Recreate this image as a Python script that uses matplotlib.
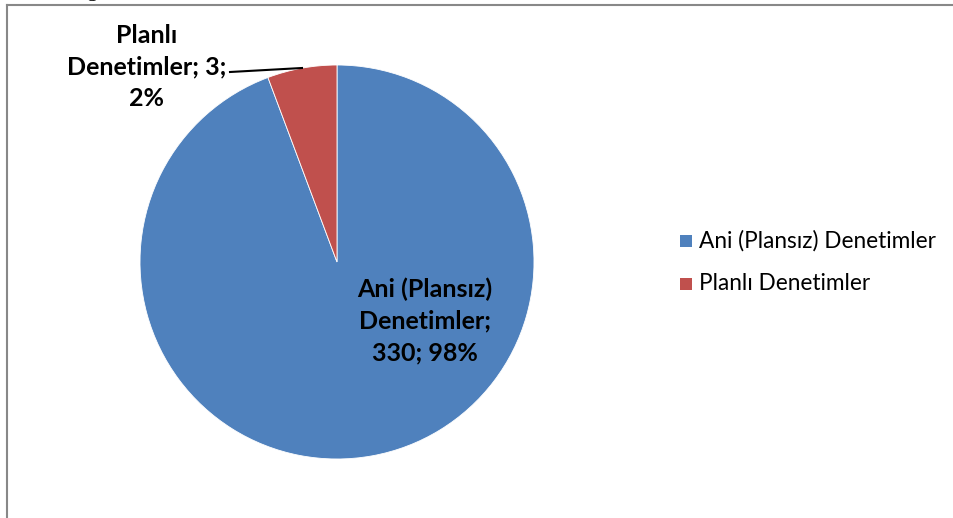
import matplotlib
matplotlib.use("Agg")
from matplotlib import pyplot as plt
from matplotlib.lines import Line2D
from matplotlib.patches import Rectangle

# data
categories = ["Ani (Plansız) Denetimler", "Planlı Denetimler"]
counts = [330, 3]
percent_labels = ["98%", "2%"]
slice_shares = [94.3, 5.7]  # drawn slice sizes as they appear in the picture
colors = ["#4f81bd", "#c0504d"]

plt.rcParams['font.family'] = ['Lato', 'DejaVu Sans']

fig = plt.figure(figsize=(9.54, 5.18), dpi=100)

# chart frame (only top and left edges visible)
fig.add_artist(Line2D([7.5 / 954, 7.5 / 954], [0, 1 - 4.5 / 518], color="#888888", lw=1.5))
fig.add_artist(Line2D([7.5 / 954, 1], [1 - 4.5 / 518, 1 - 4.5 / 518], color="#888888", lw=1.5))
# bottom of a line of page text above the chart
fig.text(87 / 954, 1 + 4 / 518, "g", fontsize=16, family="Liberation Serif", va="baseline")

# pie: centre (337, 262), radius 197 px
r = 197
ax = fig.add_axes([(337 - r) / 954, 1 - (262 + r) / 518, 2 * r / 954, 2 * r / 518])
wedges, _ = ax.pie(slice_shares, colors=colors, startangle=90, counterclock=False,
                   wedgeprops=dict(linewidth=0.6, edgecolor="white"))
ax.set_xlim(-1, 1)
ax.set_ylim(-1, 1)
ax.set_aspect("auto")

lbl = dict(fontsize=18, fontweight="bold", ha="center", va="center", linespacing=1.47)
ax.text((425 - 337) / r, (262 - 321) / r,
        "Ani (Plansız)\nDenetimler;\n%d; %s" % (counts[0], percent_labels[0]),
        transform=ax.transData, **lbl)
fig.text(147 / 954, 1 - 67 / 518,
         "Planlı\nDenetimler; %d;\n%s" % (counts[1], percent_labels[1]), **lbl)

# leader line
ax.plot([(230 - 337) / r, (302 - 337) / r], [(262 - 72) / r, (262 - 68) / r],
        color="black", lw=1.5, clip_on=False)

# legend
for i, (name, c) in enumerate(zip(categories, colors)):
    y = 241 + i * 43
    fig.add_artist(Rectangle((680 / 954, 1 - (y + 6) / 518), 12 / 954, 12 / 518,
                             facecolor=c, edgecolor="none", transform=fig.transFigure))
    fig.text(699 / 954, 1 - y / 518, name, fontsize=16.3, va="center", ha="left")

fig.savefig("out.png", dpi=100)
